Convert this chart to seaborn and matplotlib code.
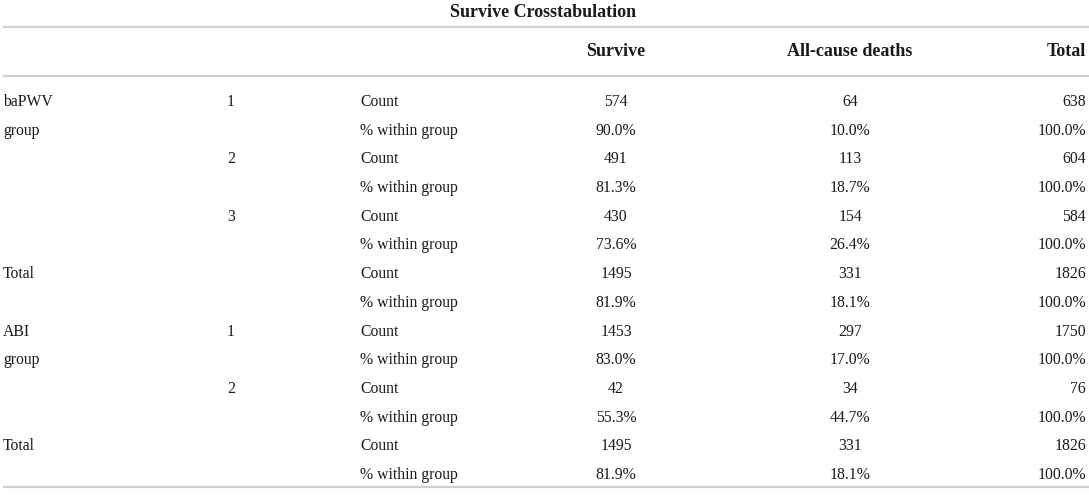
import pandas as pd
import matplotlib.pyplot as plt
import seaborn as sns

# Table content
title = 'Survive Crosstabulation'
columns = ['Survive', 'All-cause deaths', 'Total']
group_labels = ['baPWV\ngroup', '', '', 'Total', 'ABI\ngroup', '', 'Total']
level_labels = ['1', '2', '3', '', '1', '2', '']
stat_labels = ['Count', '% within group']

survive_count = [574, 491, 430, 1495, 1453, 42, 1495]
survive_pct = [90.0, 81.3, 73.6, 81.9, 83.0, 55.3, 81.9]
deaths_count = [64, 113, 154, 331, 297, 34, 331]
deaths_pct = [10.0, 18.7, 26.4, 18.1, 17.0, 44.7, 18.1]
total_count = [638, 604, 584, 1826, 1750, 76, 1826]
total_pct = [100.0] * 7

# Build long table: two rows per block
rows = []
for i in range(len(survive_count)):
    g = group_labels[i].split('\n')
    rows.append([g[0] if g else '', level_labels[i], stat_labels[0],
                 str(survive_count[i]), str(deaths_count[i]), str(total_count[i])])
    rows.append([g[1] if len(g) > 1 else '', '', stat_labels[1],
                 f'{survive_pct[i]:.1f}%', f'{deaths_pct[i]:.1f}%', f'{total_pct[i]:.1f}%'])
table = pd.DataFrame(rows, columns=['group', 'level', 'stat'] + columns)

sns.set_theme(style='white')
plt.rcParams['font.family'] = ['Liberation Serif', 'DejaVu Serif']

W, H = 1089, 502
fig = plt.figure(figsize=(W / 100, H / 100), dpi=100)
ax = fig.add_axes([0, 0, 1, 1])
ax.set_xlim(0, W)
ax.set_ylim(H, 0)
ax.axis('off')

fs = 11.3
fs_head = 13
line_color = '#cfcfcf'
text_color = '#1a1a1a'

ax.text(543, 12.5, title, ha='center', va='center', fontsize=fs_head,
        fontweight='bold', color=text_color)
for y in (28, 77, 488):
    ax.plot([3, 1089], [y, y], color=line_color, lw=1.6, solid_capstyle='butt')

col_x = [616, 850, 1086]
col_ha = ['center', 'center', 'right']
for x, ha, name in zip(col_x, col_ha, columns):
    ax.text(x, 51, name, ha=ha, va='center', fontsize=fs_head,
            fontweight='bold', color=text_color)

y0, dy = 102, 28.7
for r, row in table.iterrows():
    y = y0 + r * dy
    ax.text(3, y, row['group'], ha='left', va='center', fontsize=fs, color=text_color)
    ax.text(227, y, row['level'], ha='left', va='center', fontsize=fs, color=text_color)
    ax.text(360, y, row['stat'], ha='left', va='center', fontsize=fs, color=text_color)
    for x, ha, name in zip(col_x, col_ha, columns):
        ax.text(x, y, row[name], ha=ha, va='center', fontsize=fs, color=text_color)

fig.savefig('out.png', dpi=100)
plt.close(fig)
